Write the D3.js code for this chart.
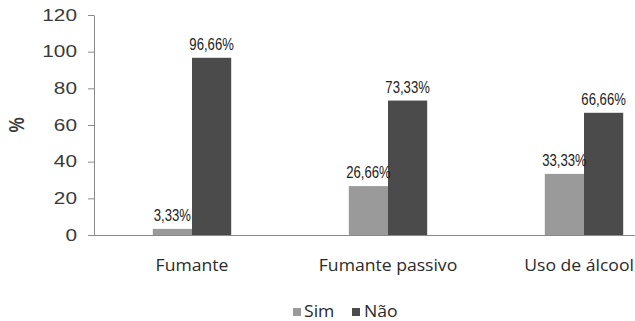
<!DOCTYPE html>
<html>
<head>
<meta charset="utf-8">
<script src="https://cdn.jsdelivr.net/npm/d3@7/dist/d3.min.js"></script>
<style>
  html, body { margin: 0; padding: 0; background: #fff; }
  svg { display: block; }
</style>
</head>
<body>
<script>
// Categories and series (percentages)
const categories = ["Fumante", "Fumante passivo", "Uso de álcool"];
const seriesNames = ["Sim", "Não"];
const simValues = [3.33, 26.66, 33.33];
const naoValues = [96.66, 73.33, 66.66];
const yTicks = [0, 20, 40, 60, 80, 100, 120];

const W = 635, H = 321;
const colors = { "Sim": "#9a9a9a", "Não": "#4b4b4b" };
const sansFont = "'Liberation Sans', Arial, sans-serif";
const uiFont = "'Open Sans', sans-serif";

const svg = d3.select("body").append("svg")
  .attr("width", W).attr("height", H);

const x0 = 94, y0 = 235;
const x = d3.scaleBand().domain(categories).range([x0, x0 + 196 * 3]).padding(0);
const xs = d3.scaleBand().domain(seriesNames).range([0, x.bandwidth()])
  .paddingInner(0).paddingOuter(1.5);
const y = d3.scaleLinear().domain([0, 120]).range([y0, 15]);

const rows = categories.map((c, i) => ({ cat: c, vals: [
  { key: "Sim", v: simValues[i] },
  { key: "Não", v: naoValues[i] }
]}));

const fmt = v => d3.format(".2f")(v).replace(".", ",") + "%";

// Y axis
const yAxis = d3.axisLeft(y).tickValues(yTicks).tickSize(6).tickSizeOuter(0);
const gy = svg.append("g").attr("transform", `translate(${x0},0)`).call(yAxis);
gy.select(".domain").attr("stroke", "#8a8a8a");
gy.selectAll(".tick line").attr("stroke", "#8a8a8a");
gy.selectAll(".tick text")
  .attr("x", 0)
  .attr("transform", "translate(-17,0) scale(1.3,1)")
  .attr("text-anchor", "end")
  .attr("font-family", sansFont)
  .attr("font-size", 16).attr("fill", "#3a3a3a");

// Y title
svg.append("text")
  .attr("transform", "translate(24,125) scale(1.3,1) rotate(-90)")
  .attr("text-anchor", "middle")
  .attr("font-family", sansFont)
  .attr("font-size", 17).attr("font-weight", "bold").attr("fill", "#3a3a3a")
  .text("%");

// Bars
const groups = svg.append("g").selectAll("g").data(rows).join("g")
  .attr("transform", d => `translate(${x(d.cat)},0)`);

groups.selectAll("rect").data(d => d.vals).join("rect")
  .attr("x", d => xs(d.key))
  .attr("width", xs.bandwidth())
  .attr("y", d => y(d.v))
  .attr("height", d => y0 - y(d.v))
  .attr("fill", d => colors[d.key]);

// Value labels (condensed)
groups.selectAll("text.val").data(d => d.vals).join("text")
  .attr("class", "val")
  .attr("transform", d => `translate(${xs(d.key) + xs.bandwidth() / 2},${y(d.v) - 8}) scale(0.82,1)`)
  .attr("text-anchor", "middle")
  .attr("font-family", sansFont)
  .attr("font-size", 16).attr("fill", "#222")
  .text(d => fmt(d.v));

// X axis
const catScale = 1.1;
const xAxis = d3.axisBottom(x).tickSize(0).tickPadding(0);
const gx = svg.append("g").attr("transform", `translate(0,${y0})`).call(xAxis);
gx.select(".domain").attr("stroke", "#8a8a8a").attr("d", `M${x0 - 6},0.5H${W}`);
gx.selectAll(".tick text")
  .attr("y", 0)
  .attr("dy", 0)
  .attr("font-family", uiFont)
  .attr("font-size", 16).attr("fill", "#2a2a2a")
  .attr("transform", function(d) {
    // keep the label inside the right edge
    const half = this.getComputedTextLength() * catScale / 2;
    const right = x(d) + x.bandwidth() / 2 + half;
    const shift = Math.min(0, (W - 1) - right);
    return `translate(${shift},36) scale(${catScale},1)`;
  });

// Legend
const legend = svg.append("g");
const legendItems = [
  { key: "Sim", sx: 293, tx: 304 },
  { key: "Não", sx: 352, tx: 364 }
];
legend.selectAll("rect").data(legendItems).join("rect")
  .attr("x", d => d.sx).attr("y", 308).attr("width", 8).attr("height", 8)
  .attr("fill", d => colors[d.key]);
legend.selectAll("text").data(legendItems).join("text")
  .attr("transform", d => `translate(${d.tx},317) scale(1.1,1)`)
  .attr("font-family", uiFont)
  .attr("font-size", 16).attr("fill", "#2a2a2a")
  .text(d => d.key);
</script>
</body>
</html>
